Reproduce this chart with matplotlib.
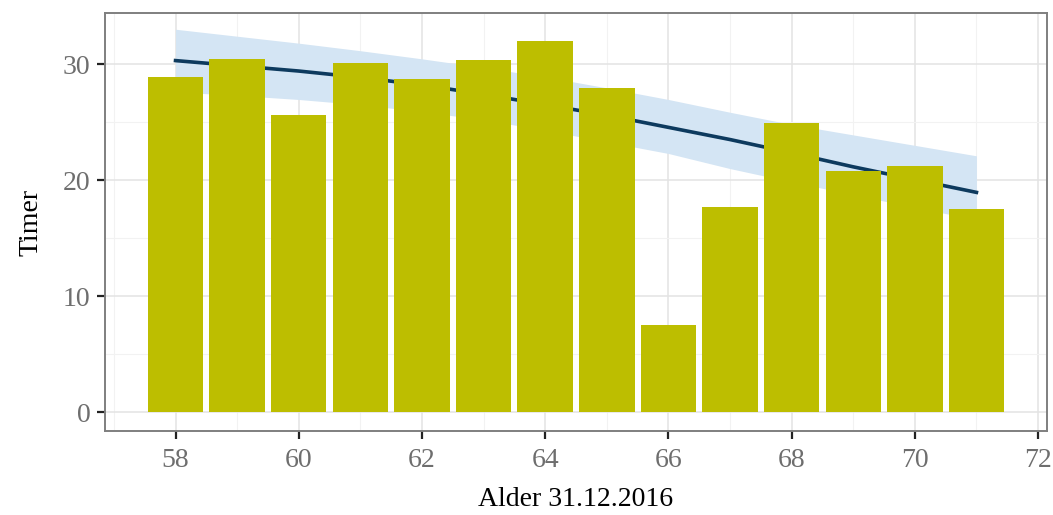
import matplotlib
matplotlib.use('Agg')
import matplotlib.pyplot as plt
from matplotlib.ticker import MultipleLocator

# hours per age group
ages  = [58, 59, 60, 61, 62, 63, 64, 65, 66, 67, 68, 69, 70, 71]
timer = [28.9, 30.4, 25.6, 30.1, 28.7, 30.35, 32.0, 27.95, 7.5, 17.65, 24.95, 20.8, 21.25, 17.5]

# smoothed trend with confidence band
fit_mid = [30.3, 29.85, 29.4, 28.85, 28.2, 27.4, 26.5, 25.6, 24.55, 23.5, 22.35, 21.15, 20.05, 18.95]
fit_hi  = [33.0, 32.4, 31.8, 31.15, 30.45, 29.7, 28.9, 27.95, 26.95, 25.85, 24.8, 23.9, 23.0, 22.1]
fit_lo  = [27.6, 27.3, 26.95, 26.5, 25.9, 25.2, 24.3, 23.3, 22.3, 21.0, 19.85, 18.75, 17.65, 16.6]

x_ticks = [58, 60, 62, 64, 66, 68, 70, 72]
y_ticks = [0, 10, 20, 30]

plt.rcParams['font.family'] = ['Liberation Serif', 'DejaVu Serif']

fig = plt.figure(figsize=(10.53, 5.15), dpi=100)
ax = fig.add_axes([0.0997, 0.1631, 0.8946, 0.8117])

ax.fill_between(ages, fit_lo, fit_hi, color='#d4e5f4', lw=0, zorder=1)
ax.plot(ages, fit_mid, color='#0d3a5e', lw=2.6, zorder=2)
ax.bar(ages, timer, width=0.9, color='#bdbe00', zorder=3)

ax.set_xlim(56.855, 72.145)
ax.set_ylim(-1.6, 34.4)
ax.set_xticks(x_ticks)
ax.set_yticks(y_ticks)
ax.xaxis.set_minor_locator(MultipleLocator(1))
ax.yaxis.set_minor_locator(MultipleLocator(5))
ax.grid(which='major', color='#e3e3e3', lw=1.1, zorder=0)
ax.grid(which='minor', color='#f2f2f2', lw=0.8, zorder=0)
ax.set_axisbelow(True)

for s in ax.spines.values():
    s.set_color('#7f7f7f')
    s.set_linewidth(1.4)
ax.tick_params(which='major', length=5.5, width=1.6, color='#222222',
               labelsize=20, labelcolor='#6e6e6e')
ax.tick_params(axis='x', which='major', pad=7)
ax.tick_params(axis='y', which='major', pad=5)
ax.tick_params(which='minor', length=0)

ax.set_xlabel('Alder 31.12.2016', fontsize=20, labelpad=10)
ax.set_ylabel('Timer', fontsize=20, labelpad=14)

fig.savefig('out.png', dpi=100)
